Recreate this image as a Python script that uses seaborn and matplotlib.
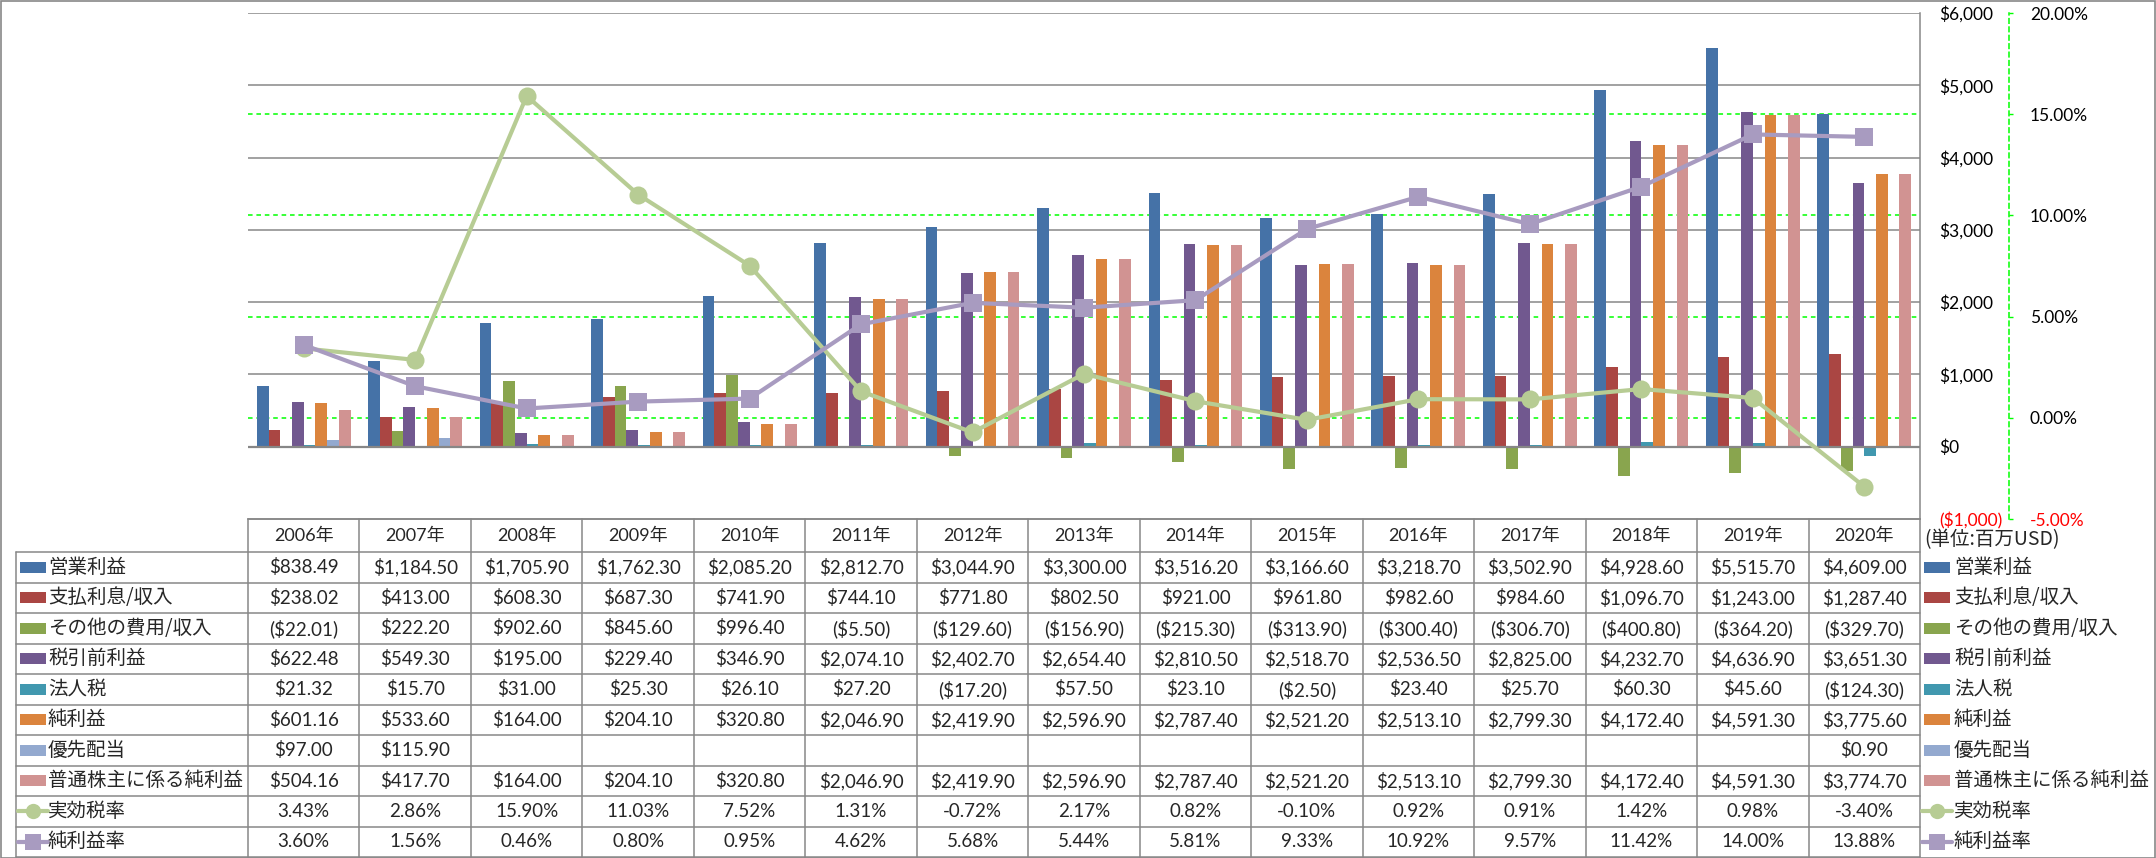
import numpy as np
import pandas as pd
import matplotlib
matplotlib.use("Agg")
import matplotlib.pyplot as plt
import seaborn as sns
from matplotlib.lines import Line2D
from matplotlib.patches import Rectangle

# ---- data (百万USD) ----
years = [f"{y}年" for y in range(2006, 2021)]

operating = [838.49, 1184.50, 1705.90, 1762.30, 2085.20, 2812.70, 3044.90, 3300.00,
             3516.20, 3166.60, 3218.70, 3502.90, 4928.60, 5515.70, 4609.00]
interest = [238.02, 413.00, 608.30, 687.30, 741.90, 744.10, 771.80, 802.50,
            921.00, 961.80, 982.60, 984.60, 1096.70, 1243.00, 1287.40]
other = [-22.01, 222.20, 902.60, 845.60, 996.40, -5.50, -129.60, -156.90,
         -215.30, -313.90, -300.40, -306.70, -400.80, -364.20, -329.70]
pretax = [622.48, 549.30, 195.00, 229.40, 346.90, 2074.10, 2402.70, 2654.40,
          2810.50, 2518.70, 2536.50, 2825.00, 4232.70, 4636.90, 3651.30]
tax = [21.32, 15.70, 31.00, 25.30, 26.10, 27.20, -17.20, 57.50,
       23.10, -2.50, 23.40, 25.70, 60.30, 45.60, -124.30]
net = [601.16, 533.60, 164.00, 204.10, 320.80, 2046.90, 2419.90, 2596.90,
       2787.40, 2521.20, 2513.10, 2799.30, 4172.40, 4591.30, 3775.60]
pref = [97.00, 115.90, np.nan, np.nan, np.nan, np.nan, np.nan, np.nan,
        np.nan, np.nan, np.nan, np.nan, np.nan, np.nan, 0.90]
common = [504.16, 417.70, 164.00, 204.10, 320.80, 2046.90, 2419.90, 2596.90,
          2787.40, 2521.20, 2513.10, 2799.30, 4172.40, 4591.30, 3774.70]

eff_tax = [3.43, 2.86, 15.90, 11.03, 7.52, 1.31, -0.72, 2.17, 0.82, -0.10,
           0.92, 0.91, 1.42, 0.98, -3.40]
margin = [3.60, 1.56, 0.46, 0.80, 0.95, 4.62, 5.68, 5.44, 5.81, 9.33,
          10.92, 9.57, 11.42, 14.00, 13.88]

bar_names = ['営業利益', '支払利息/収入', 'その他の費用/収入', '税引前利益', '法人税',
             '純利益', '優先配当', '普通株主に係る純利益']
bar_values = [operating, interest, other, pretax, tax, net, pref, common]
line_names = ['実効税率', '純利益率']
line_values = [eff_tax, margin]

bar_colors = ['#4572A7', '#AA4643', '#89A54E', '#71588F', '#4198AF', '#DB843D',
              '#93A9CF', '#D19392']
line_colors = ['#B7CC94', '#A89BC0']
line_markers = ['o', 's']

W, H = 2156, 858
GRAY = '#878787'


def fx(px):
    return px / W


def fy(py):
    return 1 - py / H


def money(v):
    if np.isnan(v):
        return ''
    s = f"${abs(v):,.2f}"
    return f"({s})" if v < 0 else s


sns.set_theme(style='white')
plt.rcParams['font.family'] = ['Lato', 'Noto Sans CJK JP', 'DejaVu Sans']

fig = plt.figure(figsize=(W / 100, H / 100), dpi=100)

# plot area geometry (pixels)
X0, X1 = 248, 1920
Y_TOP, Y_BOT = 13, 519
ax = fig.add_axes([fx(X0), fy(Y_BOT), fx(X1) - fx(X0), (Y_BOT - Y_TOP) / H])

rows = []
for name, vals in zip(bar_names, bar_values):
    for yr, v in zip(years, vals):
        rows.append({'年': yr, '項目': name, '金額': v})
df = pd.DataFrame(rows).dropna()

sns.barplot(data=df, x='年', y='金額', hue='項目', order=years, hue_order=bar_names,
            palette=bar_colors, width=8 / 9.5, saturation=1, errorbar=None,
            linewidth=0, legend=False, ax=ax, zorder=2)

y1min, y1max = -1000, 6000
y2min, y2max = -5, 20
ax.set_xlim(-0.5, len(years) - 0.5)
ax.set_ylim(y1min, y1max)
ax.set_xlabel('')
ax.set_ylabel('')
for t in range(y1min + 1000, y1max + 1, 1000):
    ax.axhline(t, color=GRAY, lw=1.1, zorder=0)
ax.axhline(0, color=GRAY, lw=1.6, zorder=3)

# secondary axis gridlines (drawn behind bars)
ticks2 = list(range(y2min, y2max + 1, 5))
for p in ticks2[1:-1]:
    yp = y1min + (p - y2min) / (y2max - y2min) * (y1max - y1min)
    ax.axhline(yp, color='#00FF00', lw=1.1, ls=(0, (3, 2.5)), zorder=1)

for s in ['left', 'top']:
    ax.spines[s].set_visible(False)
for s in ['right', 'bottom']:
    ax.spines[s].set_color(GRAY)
    ax.spines[s].set_linewidth(1.1)

ax2 = ax.twinx()
xpos = np.arange(len(years))
for name, vals, c, m in zip(line_names, line_values, line_colors, line_markers):
    sns.lineplot(x=xpos, y=vals, ax=ax2, color=c, lw=3, marker=m, markersize=13,
                 markeredgewidth=0, zorder=4)
ax2.set_xlim(-0.5, len(years) - 0.5)
ax2.set_ylim(y2min, y2max)
ax2.set_yticks(ticks2)
ax2.set_yticklabels([f"{t:.2f}%" for t in ticks2])
ax2.set_xlabel('')
ax2.set_ylabel('')
for s in ['left', 'top', 'bottom']:
    ax2.spines[s].set_visible(False)
ax2.spines['right'].set_position(('outward', 89 * 0.72))
ax2.spines['right'].set_color('#00FF00')
ax2.spines['right'].set_linestyle((0, (3, 2.5)))
ax2.spines['right'].set_linewidth(1.1)
ax2.tick_params(axis='y', length=3, width=1, color='#00FF00', pad=12,
                labelsize=12.5, labelcolor='black')
ax2.get_yticklabels()[0].set_color('red')
ax2.tick_params(axis='x', bottom=False, labelbottom=False)

# primary value axis sits on the right (twinx resets it to the left)
ticks1 = list(range(y1min, y1max + 1, 1000))
ax.set_yticks(ticks1)
ax.set_yticklabels([money(float(t)).replace('.00', '') for t in ticks1])
ax.yaxis.tick_right()
ax.tick_params(axis='y', left=False, labelleft=False, right=True, labelright=True,
               length=0, pad=13.5, labelsize=12.5, labelcolor='black')
ax.get_yticklabels()[0].set_color('red')
ax.tick_params(axis='x', bottom=False, labelbottom=False)


# ---- data table under the chart ----
def hline(y, x0, x1):
    fig.add_artist(Line2D([fx(x0), fx(x1)], [fy(y), fy(y)], color=GRAY, lw=1.1))


def vline(x, y0, y1):
    fig.add_artist(Line2D([fx(x), fx(x)], [fy(y0), fy(y1)], color=GRAY, lw=1.1))


TL = 16
col_w = (X1 - X0) / len(years)
HEAD_T, HEAD_B = Y_BOT, 552
row_h = (857 - HEAD_B) / 10

hline(HEAD_T, X0, X1)
for k in range(11):
    hline(HEAD_B + k * row_h, TL, X1)
vline(TL, HEAD_B, 857)
for k in range(len(years) + 1):
    vline(X0 + k * col_w, HEAD_T, 857)

for i, yr in enumerate(years):
    fig.text(fx(X0 + (i + 0.5) * col_w), fy((HEAD_T + HEAD_B) / 2), yr,
             ha='center', va='center', fontsize=13)

table_rows = [(n, [money(v) for v in vals], 'bar', c)
              for n, vals, c in zip(bar_names, bar_values, bar_colors)]
table_rows += [(n, [f"{v:.2f}%" for v in vals], m, c)
               for n, vals, c, m in zip(line_names, line_values, line_colors, line_markers)]

jp = ['Noto Sans CJK JP', 'DejaVu Sans']


def legend_key(x, yc, kind, color):
    if kind == 'bar':
        fig.add_artist(Rectangle((fx(x), fy(yc + 5.5)), 26 / W, 11 / H,
                                 transform=fig.transFigure, color=color, lw=0))
    else:
        fig.add_artist(Line2D([fx(x - 2), fx(x + 28)], [fy(yc), fy(yc)], color=color,
                              lw=3))
        fig.add_artist(Line2D([fx(x + 13)], [fy(yc)], color=color, lw=0,
                              marker=kind, markersize=11, markeredgewidth=0))


for r, (name, texts, kind, color) in enumerate(table_rows):
    yc = HEAD_B + (r + 0.5) * row_h
    legend_key(20, yc, kind, color)
    fig.text(fx(48), fy(yc), name, ha='left', va='center', fontsize=14, family=jp)
    for i, t in enumerate(texts):
        fig.text(fx(X0 + (i + 0.5) * col_w), fy(yc), t, ha='center', va='center',
                 fontsize=13.5)
    legend_key(1924, yc, kind, color)
    fig.text(fx(1954), fy(yc), name, ha='left', va='center', fontsize=14, family=jp)

fig.text(fx(1924), fy(540), '(単位:百万USD)', ha='left', va='center', fontsize=14,
         family=jp)

fig.add_artist(Rectangle((0.5 / W, 0.5 / H), 1 - 1.5 / W, 1 - 1.5 / H,
                         transform=fig.transFigure, fill=False, ec=GRAY, lw=1.2))

fig.savefig('out.png', dpi=100)
